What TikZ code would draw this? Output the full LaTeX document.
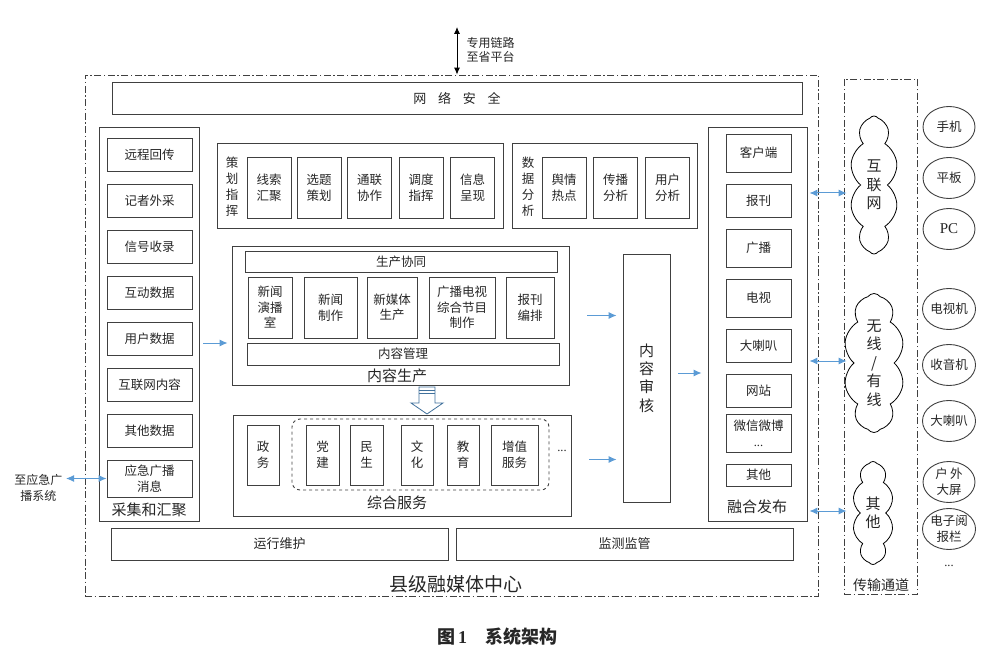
\documentclass[tikz,border=0pt]{standalone}
\usepackage{fontspec}
\setmainfont{Noto Sans CJK SC}
\newfontfamily\latin{Liberation Serif}
\usetikzlibrary{positioning, arrows.meta, shapes.geometric, shapes.symbols}
\definecolor{lineGray}{HTML}{404040}
\definecolor{txtGray}{HTML}{262626}
\definecolor{arrBlue}{HTML}{5B9BD5}
\definecolor{hollowBlue}{HTML}{41719C}
\newcommand{\fz}[2]{\fontsize{#1}{#2}\selectfont}
\tikzset{
  every node/.style={font=\fz{12.5}{16}, text=txtGray, align=center},
  box/.style={draw=lineGray, line width=0.9pt, inner sep=0pt, align=center},
  wh/.style 2 args={minimum width=#1pt, minimum height=#2pt},
  zone/.style={draw=lineGray, line width=0.8pt, inner sep=0pt,
               dash pattern=on 7pt off 2.5pt on 1.5pt off 2.5pt},
  grouplbl/.style={font=\fz{15}{18}},
  bluearr/.style={-{Latex[length=8pt,width=7pt]}, line width=1pt, draw=arrBlue},
  bluedbl/.style={{Latex[length=8pt,width=7pt]}-{Latex[length=8pt,width=7pt]},
                  line width=1pt, draw=arrBlue},
  dev/.style={draw=lineGray, line width=0.9pt, ellipse, minimum width=52pt,
              minimum height=41pt, inner sep=0pt, align=center},
  chan/.style={draw=black, line width=0.8pt, cloud, cloud puffs=10, cloud puff arc=110,
               aspect=0.35, inner sep=0pt, align=center, font=\fz{15}{18.5}},
}

\begin{document}
\begin{tikzpicture}[x=1pt, y=-1pt]
  \useasboundingbox (0,0) rectangle (1003,663);
  % --- outer zones ---
  \node[zone, wh={733}{521}] (hub) at (451.5,335.5) {};
  \node[font=\fz{19}{22}] (hubLbl) at (456,584) {县级融媒体中心};
  \node[zone, wh={73}{515}] (trans) at (880.5,336.5) {};
  \node[font=\fz{14}{17}] (transLbl) at (881,585) {传输通道};
  % uplink to the province
  \coordinate (prov) at (457,27);
  \draw[{Latex[length=7pt,width=6pt]}-{Latex[length=7pt,width=6pt]}, line width=0.9pt, black]
    (prov) -- (prov |- hub.north);
  \node[anchor=west, align=left, font=\fz{12}{14}] (provLbl) at (463,50) {专用链路\\至省平台};
  % security bar and bottom bars
  \node[box, wh={690}{32}, font=\fz{13}{16}] (sec) at (457,98)
    {网\hspace{0.9em}络\hspace{0.9em}安\hspace{0.9em}全};
  \node[box, wh={337}{32}, font=\fz{13}{16}] (ops) at (279.5,544) {运行维护};
  \node[box, wh={337}{32}, font=\fz{13}{16}] (mon) at (624.5,544) {监测监管};

  % --- collection column ---
  \node[box, wh={100}{394}] (coll) at (149,324) {};
  \node[grouplbl] (collLbl) at (149,510) {采集和汇聚};
  \foreach \n/\y/\txt in {1/154.5/远程回传, 2/200.5/记者外采, 3/246.5/信号收录, 4/292.5/互动数据,
                          5/338.5/用户数据, 6/384.5/互联网内容, 7/430.5/其他数据}
    \node[box, wh={85}{33}] (src\n) at (149.5,\y) {\txt};
  \node[box, wh={85}{37}] (emg) at (149.5,478.5) {应急广播\\消息};
  \node[anchor=east, font=\fz{12}{16}] (emgLbl) at (66,488) {至应急广\\播系统};
  \draw[bluedbl] (emg.west) -- (emg.west -| emgLbl.east);

  % --- planning and analysis ---
  \node[box, wh={286}{85}] (plan) at (360,185.5) {};
  \node (planLbl) at (232,187) {策\\划\\指\\挥};
  \foreach \n/\x/\txt in {1/269/{线索\\汇聚}, 2/319/{选题\\策划}, 3/369.5/{通联\\协作},
                          4/421/{调度\\指挥}, 5/472.5/{信息\\呈现}}
    \node[box, wh={44}{61}] (plan\n) at (\x,187.5) {\txt};
  \node[box, wh={185}{85}] (ana) at (604.5,185.5) {};
  \node (anaLbl) at (528,187) {数\\据\\分\\析};
  \foreach \n/\x/\txt in {1/564/{舆情\\热点}, 2/615.5/{传播\\分析}, 3/667.5/{用户\\分析}}
    \node[box, wh={44}{61}] (ana\n) at (\x,187.5) {\txt};

  % --- content production ---
  \node[box, wh={337}{139}] (prod) at (400.5,315.5) {};
  \node[box, wh={312}{21}] (coop) at (401,261.5) {生产协同};
  \node[box, wh={312}{22}] (cms) at (403,354) {内容管理};
  \node[grouplbl] (prodLbl) at (397,376) {内容生产};
  \foreach \n/\x/\w/\txt in {1/270/44/{新闻\\演播\\室}, 2/330.5/53/{新闻\\制作}, 3/392/50/{新媒体\\生产},
                             4/462/66/{广播电视\\综合节目\\制作}, 5/530/48/{报刊\\编排}}
    \node[box, wh={\w}{61}, font=\fz{12.5}{15.5}] (mk\n) at (\x,307.5) {\txt};
  % hollow block arrow down to services
  \coordinate (flow) at (427,387);
  \draw[hollowBlue, line width=0.8pt, fill=white]
    (flow) ++(-8,0) -- ++(16,0) -- ++(0,16) -- ++(8,0) -- ++(-16,11) -- ++(-16,-11) -- ++(8,0) -- cycle;
  \draw[hollowBlue, line width=0.8pt] (flow) ++(-8,3) -- ++(16,0);
  \draw[hollowBlue, line width=0.8pt] (flow) ++(-8,6) -- ++(16,0);

  % --- integrated services ---
  \node[box, wh={338}{101}] (svc) at (402,465.5) {};
  \node[grouplbl] (svcLbl) at (397,503) {综合服务};
  \node[box, wh={32}{60}] (gov) at (263,455) {政\\务};
  \node[draw=lineGray, line width=0.9pt, dashed, rounded corners=8pt, wh={257}{71}] (civic) at (420.5,454.5) {};
  \foreach \n/\x/\w/\txt in {1/322.5/33/{党\\建}, 2/366.5/33/{民\\生}, 3/417/32/{文\\化},
                             4/463/32/{教\\育}, 5/514.5/47/{增值\\服务}}
    \node[box, wh={\w}{60}] (civ\n) at (\x,455) {\txt};
  \node (svcMore) at (562,451) {\latin ...};

  % --- review and release ---
  \node[box, wh={47}{248}, font=\fz{15}{18.3}] (rev) at (646.5,378) {内\\容\\审\\核};
  \node[box, wh={99}{394}] (rel) at (757.5,324) {};
  \node[grouplbl] (relLbl) at (757,507) {融合发布};
  \foreach \n/\y/\h/\txt in {1/153/38/客户端, 2/200.5/33/报刊, 3/248/38/广播, 4/298/38/电视,
                             5/345.5/33/大喇叭, 6/390.5/33/网站, 7/433/38/{微信微博\\{\latin ...}},
                             8/475/22/其他}
    \node[box, wh={65}{\h}] (out\n) at (758.5,\y) {\txt};

  % blue flow arrows
  \draw[bluearr, shorten <=4pt, shorten >=4pt] ([yshift=-19pt]coll.east) -- ([yshift=-19pt]coll.east -| prod.west);
  \draw[bluearr, shorten <=18pt, shorten >=6pt] (prod.east) -- (prod.east -| rev.west);
  \draw[bluearr, shorten <=18pt, shorten >=6pt] ([yshift=6pt]svc.east) -- ([yshift=6pt]svc.east -| rev.west);
  \draw[bluearr, shorten <=8pt, shorten >=6pt] ([yshift=5pt]rev.east) -- ([yshift=5pt]rev.east -| rel.west);

  % --- transmission channels ---
  \node[chan, wh={48}{138}] (net) at (874,185) {互\\联\\网};
  \node[chan, wh={49}{139}] (wire) at (874,363) {无\\线\\/\\有\\线};
  \node[chan, wh={41}{103}] (misc) at (873,513) {其\\他};
  \draw[bluedbl, shorten <=2pt, shorten >=-3pt] ([yshift=-8pt]net.west -| rel.east) -- ([yshift=-8pt]net.west -| trans.west);
  \draw[bluedbl, shorten <=2pt, shorten >=-3pt] ([yshift=2pt]wire.west -| rel.east) -- ([yshift=2pt]wire.west -| trans.west);
  \draw[bluedbl, shorten <=2pt, shorten >=-3pt] ([yshift=2pt]misc.west -| rel.east) -- ([yshift=2pt]misc.west -| trans.west);

  % --- terminals ---
  \foreach \n/\y/\txt in {1/127/手机, 2/178/平板, 3/229/{{\latin\fz{15}{18}PC}}, 4/309/电视机, 5/365/收音机,
                          6/421/大喇叭, 7/482/{户\,外\\大屏}, 8/529/{电子阅\\报栏}}
    \node[dev] (dev\n) at (949,\y) {\txt};
  \node (devMore) at (949,566) {\latin ...};

  % caption
  \node[font=\fz{18}{20}\bfseries] (cap) at (497,637) {图{\latin\,1}\quad 系统架构};
\end{tikzpicture}
\end{document}
